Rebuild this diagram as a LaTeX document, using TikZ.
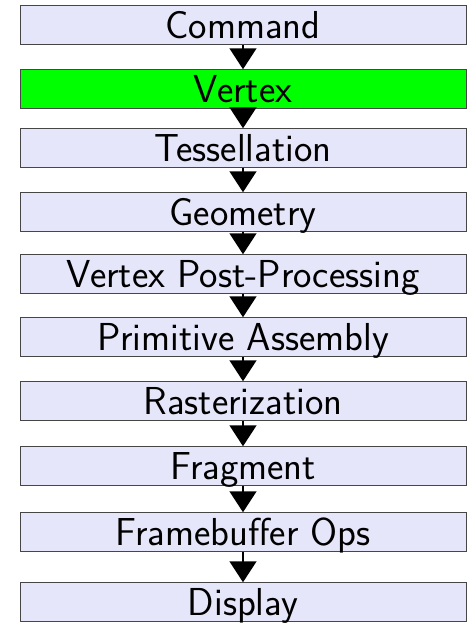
\documentclass[tikz,border=0pt]{standalone}
\usetikzlibrary{arrows.meta}
\definecolor{boxfill}{RGB}{230,230,250}
\definecolor{boxline}{RGB}{70,70,70}
\definecolor{hot}{RGB}{0,255,0}
\begin{document}
\begin{tikzpicture}[x=1pt,y=1pt,
  stage/.style={draw=boxline, line width=1pt, fill=boxfill, rectangle,
    minimum width=446pt, minimum height=38.5pt, inner sep=0pt,
    text height=26pt, text depth=0pt,
    font=\sffamily\fontsize{39}{43}\selectfont},
  flow/.style={line width=1.5pt, -{Triangle[width=27pt,length=21pt]}}]
\useasboundingbox (0,0) rectangle (474,-625);
\node[stage] (cmd)  at (243,-25)  {Command};
\node[stage, fill=hot] (vert) at (243,-89)  {Vertex};
\node[stage] (tess) at (243,-148) {Tessellation};
\node[stage] (geom) at (243,-212) {Geometry};
\node[stage] (vpp)  at (243,-274) {Vertex Post-Processing};
\node[stage] (pa)   at (243,-337) {Primitive Assembly};
\node[stage] (rast) at (243,-401) {Rasterization};
\node[stage] (frag) at (243,-466) {Fragment};
\node[stage] (fbo)  at (243,-532) {Framebuffer Ops};
\node[stage] (disp) at (243,-602) {Display};
\foreach \a/\b in {cmd/vert,vert/tess,tess/geom,geom/vpp,vpp/pa,pa/rast,rast/frag,frag/fbo,fbo/disp}
  \draw[flow] (\a.south) -- (\b.north);
\end{tikzpicture}
\end{document}
